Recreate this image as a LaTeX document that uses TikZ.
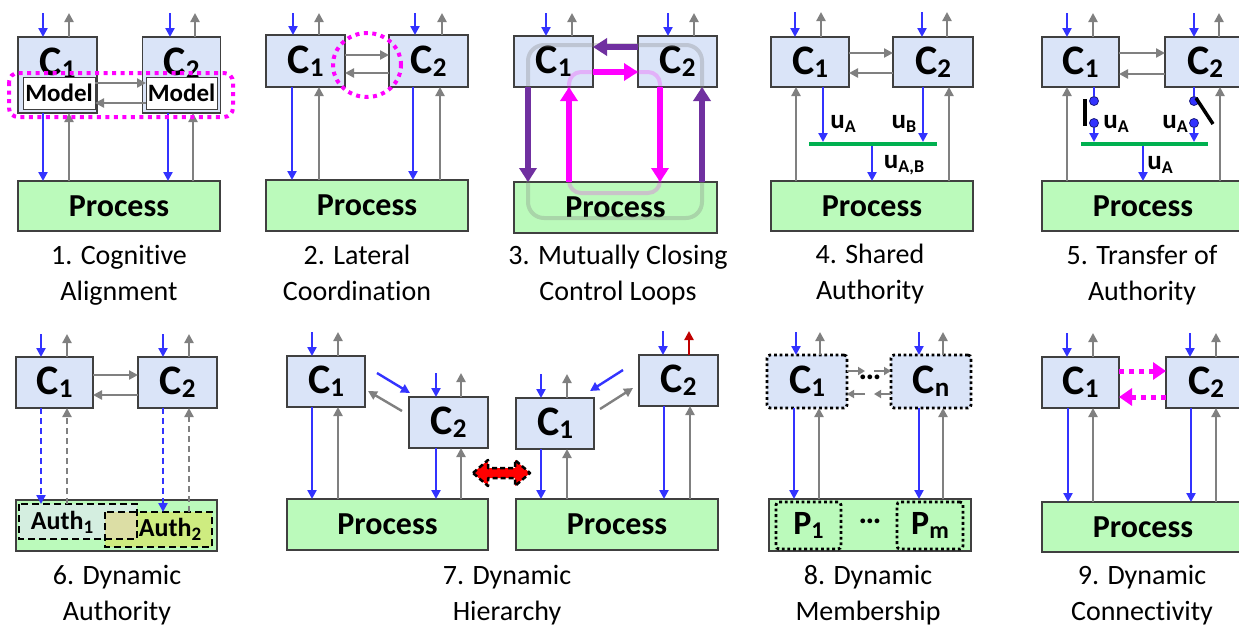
\documentclass[tikz,border=0pt]{standalone}
\usepackage{fontspec}
\setmainfont{Carlito}[Ligatures=NoCommon]
\usetikzlibrary{arrows.meta}
\definecolor{cfill}{RGB}{218,228,248}
\definecolor{pfill}{RGB}{187,250,187}
\definecolor{bord}{RGB}{64,64,64}
\definecolor{ablue}{RGB}{51,51,255}
\definecolor{agray}{RGB}{128,128,128}
\definecolor{apurple}{RGB}{112,48,160}
\definecolor{amag}{RGB}{255,0,255}
\definecolor{agreen}{RGB}{0,176,80}
\definecolor{ared}{RGB}{192,0,0}
\definecolor{aoneF}{RGB}{212,238,224}
\definecolor{atwoF}{RGB}{206,236,128}
\definecolor{aovF}{RGB}{220,222,165}
\newcommand{\Cl}[1]{C\raisebox{-3pt}{\fontsize{27}{27}\selectfont #1}}
\newcommand{\ul}[1]{u\raisebox{-4pt}{\fontsize{18}{18}\selectfont #1}}
\newcommand{\au}[1]{Auth\raisebox{-4pt}{\fontsize{19}{19}\selectfont #1}}
\newcommand{\pl}[1]{P\raisebox{-4pt}{\fontsize{24}{24}\selectfont #1}}
\newcommand{\myin}[3]{\coordinate (#1-in) at (#2,#3); \draw[barr] (#1-in) -- (#1.north -| #1-in);}
\newcommand{\myout}[4][garr]{\coordinate (#2-out) at (#3,#4); \draw[#1] (#2.north -| #2-out) -- (#2-out);}
\newcommand{\mydown}[4][barr]{\coordinate (tmpx) at (#4,0); \draw[#1] (#2.south -| tmpx) -- (#3.north -| tmpx);}
\newcommand{\myup}[4][garr]{\coordinate (tmpx) at (#4,0); \draw[#1] (#3.north -| tmpx) -- (#2.south -| tmpx);}
\newcommand{\mylat}[4][garr]{\coordinate (tmpy) at (0,#4); \draw[#1] (#2 |- tmpy) -- (#3 |- tmpy);}
\tikzset{
  bx/.style={draw=bord, line width=1.4pt, inner sep=0pt, outer sep=0pt},
  cbox/.style={bx, fill=cfill, font=\bfseries\fontsize{42}{42}\selectfont},
  pbox/.style={bx, fill=pfill, font=\bfseries\fontsize{32}{32}\selectfont},
  mbox/.style={bx, line width=1pt, fill=white, font=\bfseries\fontsize{25}{25}\selectfont},
  ctext/.style={font=\bfseries\fontsize{42}{42}\selectfont, inner sep=0pt},
  lab/.style={font=\bfseries\fontsize{27}{27}\selectfont, inner sep=0pt},
  captxt/.style={font=\fontsize{28}{36}\selectfont, align=center, inner sep=0pt},
  arr/.style={line width=2.4pt, -{Triangle[length=9pt,width=9pt]}},
  barr/.style={arr, draw=ablue},
  garr/.style={arr, draw=agray},
  rarr/.style={arr, draw=ared},
  sgarr/.style={line width=2.2pt, draw=agray, -{Triangle[length=7pt,width=8pt]}},
  dbarr/.style={barr, dash pattern=on 6pt off 4pt},
  dgarr/.style={garr, dash pattern=on 6pt off 4pt},
  parr/.style={draw=apurple, line width=6pt, -{Triangle[length=14pt,width=17pt]}},
  marr/.style={draw=amag, line width=6pt, -{Triangle[length=14pt,width=17pt]}},
  mdarr/.style={draw=amag, line width=5pt, dash pattern=on 5pt off 5pt, -{Triangle[length=13pt,width=17pt]}},
  busbar/.style={fill=agreen, inner sep=0pt, outer sep=0pt, minimum height=4pt},
  bline/.style={draw=ablue, line width=2.4pt},
  swdot/.style={circle, fill=ablue, draw=ablue!50!black, line width=0.8pt, minimum size=9pt, inner sep=0pt},
  swl/.style={draw=black, line width=3.5pt},
  dotbox/.style={draw=black, line width=2.8pt, dash pattern=on 2.8pt off 2.8pt, rounded corners=3pt},
  authbox/.style={draw=black, line width=2.2pt, dash pattern=on 7pt off 4pt},
}
\begin{document}
\begin{tikzpicture}[x=1pt,y=-1pt]
\useasboundingbox (0,0) rectangle (1239,625);
\clip (0,0) rectangle (1239,625);
\fill[white] (0,0) rectangle (1239,625);

% ---------------- Panel 1 ----------------
\node[cbox, minimum width=79pt, minimum height=76pt] (p1c1) at (57.5,75) {};
\node[cbox, minimum width=78pt, minimum height=76pt] (p1c2) at (181.5,75) {};
\node[ctext] (p1t1) at (57.5,63) {\Cl{1}};
\node[ctext] (p1t2) at (181.5,63) {\Cl{2}};
\node[mbox, minimum width=72pt, minimum height=32pt] (p1m1) at (59,93) {Model};
\node[mbox, minimum width=71pt, minimum height=32pt] (p1m2) at (181.5,93) {Model};
\mylat{p1m1.east}{p1m2.west}{83}
\mylat{p1m2.west}{p1m1.east}{103}
\node[pbox, minimum width=202pt, minimum height=50pt] (p1pr) at (119,206) {Process};
\myin{p1c1}{43}{13} \myout{p1c1}{69}{13}
\myin{p1c2}{170}{13} \myout{p1c2}{195}{13}
\mydown{p1c1}{p1pr}{43} \myup{p1c1}{p1pr}{69}
\mydown{p1c2}{p1pr}{168} \myup{p1c2}{p1pr}{193}
\draw[amag, line width=4pt, dash pattern=on 4pt off 4.5pt, rounded corners=9pt] (9,73) rectangle (233,117);
\node[captxt] (p1cap) at (119,275) {1. Cognitive\\Alignment};

% ---------------- Panel 2 ----------------
\node[cbox, minimum width=79pt, minimum height=52pt] (p2c1) at (305.5,61) {\Cl{1}};
\node[cbox, minimum width=79pt, minimum height=52pt] (p2c2) at (428.5,61) {\Cl{2}};
\mylat{p2c1.east}{p2c2.west}{55}
\mylat{p2c2.west}{p2c1.east}{73}
\node[pbox, minimum width=202pt, minimum height=51pt] (p2pr) at (367,205.5) {Process};
\myin{p2c1}{293}{13} \myout{p2c1}{319}{13}
\myin{p2c2}{415}{13} \myout{p2c2}{442}{13}
\mydown{p2c1}{p2pr}{292} \myup{p2c1}{p2pr}{319}
\mydown{p2c2}{p2pr}{413} \myup{p2c2}{p2pr}{440}
\draw[amag, line width=4pt, dash pattern=on 4pt off 4.5pt] (367,65) ellipse [x radius=34pt, y radius=32pt];
\node[captxt] (p2cap) at (357,273) {2. Lateral\\Coordination};

% ---------------- Panel 3 ----------------
\node[cbox, minimum width=79pt, minimum height=51pt] (p3c1) at (553.5,61.5) {\Cl{1}};
\node[cbox, minimum width=79pt, minimum height=51pt] (p3c2) at (677.5,61.5) {\Cl{2}};
\node[pbox, minimum width=203pt, minimum height=51pt] (p3pr) at (615.5,207.5) {Process};
\myin{p3c1}{546}{13} \myout{p3c1}{572}{13}
\myin{p3c2}{668}{13} \myout{p3c2}{694}{13}
\draw[agray, opacity=0.3, line width=4pt, rounded corners=16pt] (528,45) rectangle (702,218);
\draw[amag, opacity=0.22, line width=4pt, rounded corners=12pt] (569,72) rectangle (660,193);
\mylat[parr]{p3c2.west}{p3c1.east}{47}
\mydown[parr]{p3c1}{p3pr}{528}
\myup[parr]{p3c2}{p3pr}{702}
\mylat[marr]{p3c1.east}{p3c2.west}{72}
\mydown[marr]{p3c2}{p3pr}{660}
\myup[marr]{p3c1}{p3pr}{569}
\node[captxt] (p3cap) at (618,275) {3. Mutually Closing\\Control Loops};

% ---------------- Panel 4 ----------------
\node[cbox, minimum width=78pt, minimum height=50pt] (p4c1) at (810,62) {\Cl{1}};
\node[cbox, minimum width=80pt, minimum height=50pt] (p4c2) at (933,62) {\Cl{2}};
\mylat{p4c1.east}{p4c2.west}{53}
\mylat{p4c2.west}{p4c1.east}{73}
\node[pbox, minimum width=202pt, minimum height=50pt] (p4pr) at (872,206) {Process};
\myin{p4c1}{795}{12} \myout{p4c1}{821}{12}
\myin{p4c2}{922}{12} \myout{p4c2}{947}{12}
\myup{p4c1}{p4pr}{796} \myup{p4c2}{p4pr}{949}
\node[busbar, minimum width=128pt] (p4bus) at (873,144) {};
\mydown{p4c1}{p4bus}{823}
\mydown{p4c2}{p4bus}{923}
\mydown{p4bus}{p4pr}{872}
\node[lab] (p4ua) at (843,124) {\ul{A}};
\node[lab] (p4ub) at (904,124) {\ul{B}};
\node[lab] (p4uab) at (904,165) {\ul{A,B}};
\node[captxt] (p4cap) at (870,274) {4. Shared\\Authority};

% ---------------- Panel 5 ----------------
\node[cbox, minimum width=77pt, minimum height=50pt] (p5c1) at (1080.5,62) {\Cl{1}};
\node[cbox, minimum width=80pt, minimum height=50pt] (p5c2) at (1205,62) {\Cl{2}};
\mylat{p5c1.east}{p5c2.west}{53}
\mylat{p5c2.west}{p5c1.east}{74}
\node[pbox, minimum width=202pt, minimum height=50pt] (p5pr) at (1143,206) {Process};
\myin{p5c1}{1067}{13} \myout{p5c1}{1093}{13}
\myin{p5c2}{1194}{13} \myout{p5c2}{1219}{13}
\myup{p5c1}{p5pr}{1067} \myup{p5c2}{p5pr}{1220}
\node[busbar, minimum width=127pt] (p5bus) at (1144.5,144) {};
\node[swdot] (p5s1) at (1094,101) {};
\node[swdot] (p5s2) at (1094,123) {};
\node[swdot] (p5s3) at (1194,101) {};
\node[swdot] (p5s4) at (1194,123) {};
\draw[bline] (p5c1.south -| p5s1) -- (p5s1);
\draw[bline] (p5c2.south -| p5s3) -- (p5s3);
\draw[barr] (p5s2) -- (p5bus.north -| p5s2);
\draw[barr] (p5s4) -- (p5bus.north -| p5s4);
\draw[swl] (1085,99) -- (1085,126);
\draw[swl] (1196,98) -- (1213,124);
\mydown{p5bus}{p5pr}{1143}
\node[lab] (p5u1) at (1116,124) {\ul{A}};
\node[lab] (p5u2) at (1175,124) {\ul{A}};
\node[lab] (p5u3) at (1160,165) {\ul{A}};
\node[captxt] (p5cap) at (1142,275) {5. Transfer of\\Authority};

% ---------------- Panel 6 ----------------
\node[cbox, minimum width=77pt, minimum height=51pt] (p6c1) at (54.5,382.5) {\Cl{1}};
\node[cbox, minimum width=79pt, minimum height=51pt] (p6c2) at (177.5,382.5) {\Cl{2}};
\mylat{p6c1.east}{p6c2.west}{375}
\mylat{p6c2.west}{p6c1.east}{395}
\myin{p6c1}{41}{334} \myout{p6c1}{67}{334}
\myin{p6c2}{163}{334} \myout{p6c2}{189}{334}
\node[bx, fill=pfill, minimum width=201pt, minimum height=51pt] (p6pr) at (116.5,525.5) {};
\node[inner sep=0pt, outer sep=0pt, fill=aoneF, minimum width=118pt, minimum height=35pt] (p6a1) at (78,521.5) {};
\node[inner sep=0pt, outer sep=0pt, fill=atwoF, minimum width=107pt, minimum height=35pt] (p6a2) at (158.5,529.5) {};
\fill[aovF] (105,512) rectangle (137,539);
\draw[authbox] (19,504) rectangle (137,539);
\draw[authbox] (105,512) rectangle (212,547);
\node[lab, font=\bfseries\fontsize{26}{26}\selectfont] (p6t1) at (62,522) {\au{1}};
\node[lab, font=\bfseries\fontsize{26}{26}\selectfont] (p6t2) at (170,529) {\au{2}};
\mydown[dbarr]{p6c1}{p6a1}{41} \myup[dgarr]{p6c1}{p6a1}{67}
\mydown[dbarr]{p6c2}{p6a2}{163} \myup[dgarr]{p6c2}{p6a2}{189}
\node[captxt] (p6cap) at (117,595) {6. Dynamic\\Authority};

% ---------------- Panel 7 ----------------
\node[cbox, minimum width=78pt, minimum height=51pt] (p7c1) at (326,381.5) {\Cl{1}};
\node[cbox, minimum width=79pt, minimum height=51pt] (p7c2) at (448.5,422.5) {\Cl{2}};
\node[pbox, minimum width=201pt, minimum height=51pt] (p7pl) at (387.5,524.5) {Process};
\myin{p7c1}{312}{332} \myout{p7c1}{338}{332}
\myin{p7c2}{436}{373} \myout{p7c2}{461}{373}
\mydown{p7c1}{p7pl}{312} \myup{p7c1}{p7pl}{338}
\mydown{p7c2}{p7pl}{436} \myup{p7c2}{p7pl}{461}
\coordinate (p7ba) at (377,373); \coordinate (p7bb) at (410,393);
\draw[barr] (p7ba) -- (p7bb);
\coordinate (p7ga) at (402,411); \coordinate (p7gb) at (368,391);
\draw[garr] (p7ga) -- (p7gb);
\node[cbox, minimum width=78pt, minimum height=51pt] (p7d1) at (555,423.5) {\Cl{1}};
\node[cbox, minimum width=79pt, minimum height=51pt] (p7d2) at (678.5,380.5) {\Cl{2}};
\node[pbox, minimum width=202pt, minimum height=51pt] (p7pr) at (617,524.5) {Process};
\myin{p7d1}{541}{374} \myout{p7d1}{567}{374}
\myin{p7d2}{663}{331} \myout[rarr]{p7d2}{689}{331}
\mydown{p7d1}{p7pr}{541} \myup{p7d1}{p7pr}{567}
\mydown{p7d2}{p7pr}{664} \myup{p7d2}{p7pr}{690}
\coordinate (p7bc) at (623,370); \coordinate (p7bd) at (590,391);
\draw[barr] (p7bc) -- (p7bd);
\coordinate (p7gc) at (600,409); \coordinate (p7gd) at (633,388);
\draw[garr] (p7gc) -- (p7gd);
\draw[fill=red, draw=black, line width=2.5pt, dash pattern=on 5pt off 3pt, line join=round]
  (473,473) -- (488,460) -- (488,468) -- (515,468) -- (515,460) -- (530,473)
  -- (515,486) -- (515,478) -- (488,478) -- (488,486) -- cycle;
\node[captxt] (p7cap) at (507,595) {7. Dynamic\\Hierarchy};

% ---------------- Panel 8 ----------------
\node[cbox, dotbox, minimum width=80pt, minimum height=53pt] (p8c1) at (807,381.5) {\Cl{1}};
\node[cbox, dotbox, minimum width=80pt, minimum height=53pt] (p8cn) at (931,381.5) {\Cl{n}};
\myin{p8c1}{796}{332} \myout{p8c1}{820}{332}
\myin{p8cn}{919}{332} \myout{p8cn}{943}{332}
\coordinate (p8a) at (865,371); \draw[sgarr] (p8c1.east |- p8a) -- (p8a);
\coordinate (p8b) at (874,371); \draw[sgarr] (p8b) -- (p8cn.west |- p8b);
\coordinate (p8c) at (865,394); \draw[sgarr] (p8c) -- (p8c1.east |- p8c);
\coordinate (p8d) at (874,394); \draw[sgarr] (p8cn.west |- p8d) -- (p8d);
\node[lab, font=\bfseries\fontsize{32}{32}\selectfont] (p8dots) at (870,377) {…};
\node[bx, fill=pfill, minimum width=202pt, minimum height=52pt] (p8pr) at (870,525) {};
\node[dotbox, inner sep=0pt, minimum width=65pt, minimum height=47pt, font=\bfseries\fontsize{34}{34}\selectfont] (p8p1) at (808.5,525.5) {\pl{1}};
\node[dotbox, inner sep=0pt, minimum width=66pt, minimum height=47pt, font=\bfseries\fontsize{34}{34}\selectfont] (p8pm) at (930,525.5) {\pl{m}};
\node[lab, font=\bfseries\fontsize{32}{32}\selectfont] (p8dots2) at (870,521) {…};
\mydown{p8c1}{p8pr}{794} \myup{p8c1}{p8pr}{819}
\mydown{p8cn}{p8pr}{919} \myup{p8cn}{p8pr}{943}
\node[captxt] (p8cap) at (868,595) {8. Dynamic\\Membership};

% ---------------- Panel 9 ----------------
\node[cbox, minimum width=77pt, minimum height=51pt] (p9c1) at (1080.5,382.5) {\Cl{1}};
\node[cbox, minimum width=80pt, minimum height=51pt] (p9c2) at (1206,382.5) {\Cl{2}};
\myin{p9c1}{1067}{333} \myout{p9c1}{1093}{333}
\myin{p9c2}{1190}{333} \myout{p9c2}{1216}{333}
\mylat[mdarr]{p9c1.east}{p9c2.west}{371}
\mylat[mdarr]{p9c2.west}{p9c1.east}{397}
\node[pbox, minimum width=202pt, minimum height=50pt] (p9pr) at (1143,527) {Process};
\mydown{p9c1}{p9pr}{1068} \myup{p9c1}{p9pr}{1093}
\mydown{p9c2}{p9pr}{1191} \myup{p9c2}{p9pr}{1216}
\node[captxt] (p9cap) at (1142,595) {9. Dynamic\\Connectivity};
\end{tikzpicture}
\end{document}
